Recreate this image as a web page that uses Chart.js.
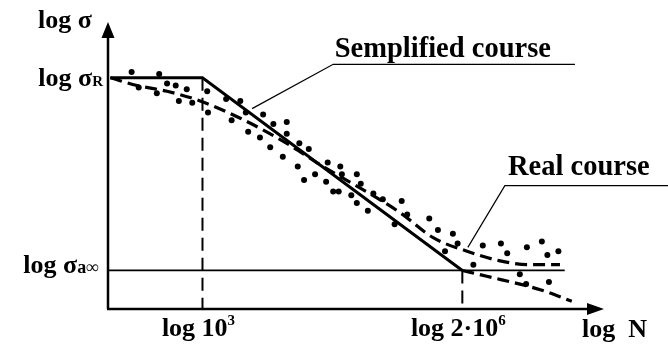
<!DOCTYPE html>
<html lang="en">
<head>
<meta charset="UTF-8" />
<title>Wöhler curve - simplified and real course</title>
<script src="https://cdn.jsdelivr.net/npm/chart.js"></script>
<style>
  html, body { margin: 0; padding: 0; background: #fff; }
  #wrap { width: 668px; height: 345px; }
</style>
</head>
<body>
<div id="wrap"><canvas id="snChart" width="668" height="345"></canvas></div>
<script>
  // x = log N, y = log sigma scaled so that log sigma_R = 1 and log sigma_a-inf = 0
  const xTicks = [3, 6.3];
  const xTickLabels = [['log 10', '3'], ['log 2·10', '6']];
  const yTicks = [1, 0];
  const yTickLabels = [['log σ', 'R'], ['log σ', 'a∞']];

  // simplified course (solid)
  const simpleX = [1.83, 3, 6.3];
  const simpleY = [1, 1, 0];

  // real course (dashed, upper branch)
  const realX = [1.83, 2.17, 2.55, 2.97, 3.48, 4.07, 4.45, 5.51, 5.93, 6.36, 6.78, 7.16, 7.54];
  const realY = [1.00, 0.96, 0.93, 0.88, 0.79, 0.66, 0.56, 0.30, 0.17, 0.10, 0.05, 0.03, 0.03];

  // real course (dashed, lower branch after the knee)
  const lowX = [6.3, 6.61, 7.29, 7.69];
  const lowY = [0, -0.03, -0.10, -0.16];

  // test results
  const dotX = [2.10, 2.45, 2.55, 2.66, 2.19, 2.42, 2.80, 2.70, 2.87, 3.06, 3.07, 3.30, 3.48, 3.55, 3.37,
    3.77, 3.90, 4.07, 3.58, 3.73, 3.86, 4.07, 4.23, 4.35, 4.02, 4.21, 4.43, 4.59, 4.75, 4.29,
    4.57, 4.66, 4.73, 4.89, 4.77, 4.96, 5.01, 5.17, 5.29, 4.96, 5.10, 5.53, 5.60, 5.88, 5.44,
    5.99, 6.18, 6.24, 6.08, 6.56, 6.79, 6.87, 7.12, 7.31, 7.38, 7.52, 6.44, 7.03, 7.11, 7.40];
  const dotY = [1.03, 1.02, 0.97, 0.96, 0.95, 0.92, 0.94, 0.88, 0.87, 0.93, 0.82, 0.89, 0.88, 0.82, 0.78,
    0.81, 0.76, 0.77, 0.72, 0.69, 0.64, 0.71, 0.66, 0.63, 0.59, 0.54, 0.50, 0.56, 0.54, 0.47,
    0.46, 0.41, 0.41, 0.39, 0.50, 0.50, 0.45, 0.40, 0.37, 0.35, 0.31, 0.36, 0.29, 0.27, 0.24,
    0.21, 0.19, 0.14, 0.10, 0.13, 0.14, 0.09, 0.12, 0.15, 0.08, 0.10, 0.03, -0.02, -0.07, -0.06];

  // endurance limit line end, leader lines of the two notes
  const limitEndX = 7.6;
  const simpleLeaderX = [3.63, 4.66, 7.73];
  const simpleLeaderY = [0.84, 1.07, 1.07];
  const realLeaderX = [6.37, 6.84, 8.95];
  const realLeaderY = [0.12, 0.44, 0.44];

  const xMin = 1.8, xMax = 8.15, yMin = -0.2, yMax = 1.3;
  const serif = "'Liberation Serif', 'Times New Roman', serif";

  const pts = (xs, ys) => xs.map((v, i) => ({ x: v, y: ys[i] }));

  function scriptText(ctx, parts, x, y, align) {
    let w = 0;
    parts.forEach(p => { ctx.font = p[1]; w += ctx.measureText(p[0]).width; });
    let cx = align === 'right' ? x - w : align === 'center' ? x - w / 2 : x;
    ctx.textAlign = 'left';
    ctx.textBaseline = 'alphabetic';
    parts.forEach(p => {
      ctx.font = p[1];
      ctx.fillText(p[0], cx, y + p[2]);
      cx += ctx.measureText(p[0]).width;
    });
  }

  const sketchPlugin = {
    id: 'sketch',
    afterDatasetsDraw(chart) {
      const { ctx, chartArea: a, scales } = chart;
      const sx = scales.x, sy = scales.y;
      ctx.save();
      ctx.strokeStyle = '#000';
      ctx.fillStyle = '#000';

      // axes with arrow heads
      ctx.lineWidth = 2.5;
      ctx.beginPath();
      ctx.moveTo(a.left, a.bottom);
      ctx.lineTo(a.left, a.top + 14);
      ctx.moveTo(a.left - 1, a.bottom);
      ctx.lineTo(a.right - 18, a.bottom);
      ctx.stroke();
      ctx.beginPath();
      ctx.moveTo(a.left, a.top + 2);
      ctx.lineTo(a.left - 6.5, a.top + 18);
      ctx.lineTo(a.left + 6.5, a.top + 18);
      ctx.closePath();
      ctx.moveTo(a.right - 4, a.bottom);
      ctx.lineTo(a.right - 21, a.bottom - 6);
      ctx.lineTo(a.right - 21, a.bottom + 6);
      ctx.closePath();
      ctx.fill();

      const big = 'bold 26px ' + serif;
      const small = 'bold 15px ' + serif;

      // axis titles
      scriptText(ctx, [['log σ', big, 0]], 38, 28, 'left');
      scriptText(ctx, [['log  N', big, 0]], 582, 337, 'left');

      // y tick labels
      yTicks.forEach((v, i) => {
        const py = sy.getPixelForValue(v);
        const lab = yTickLabels[i];
        if (i === 0) {
          scriptText(ctx, [[lab[0], big, 0], [lab[1], small, 0]], a.left - 5, py + 8, 'right');
        } else {
          scriptText(ctx, [[lab[0], big, 0], [lab[1], 'bold 18px ' + serif, 0]], a.left - 9, py + 3, 'right');
        }
      });

      // x tick labels
      xTicks.forEach((v, i) => {
        const px = sx.getPixelForValue(v);
        const lab = xTickLabels[i];
        scriptText(ctx, [[lab[0], big, 0], [lab[1], small, -11]], px - 4, a.bottom + 27, 'center');
      });

      // notes
      const note = 'bold 28.5px ' + serif;
      scriptText(ctx, [['Semplified course', note, 0]], sx.getPixelForValue(4.68), sy.getPixelForValue(1.108), 'left');
      scriptText(ctx, [['Real course', note, 0]], sx.getPixelForValue(6.88), sy.getPixelForValue(0.495), 'left');
      ctx.restore();
    }
  };

  const black = '#000';
  new Chart(document.getElementById('snChart'), {
    type: 'scatter',
    data: {
      datasets: [
        {
          label: 'test results',
          data: pts(dotX, dotY),
          pointRadius: 3,
          pointBackgroundColor: black,
          pointBorderWidth: 0,
          showLine: false
        },
        {
          label: 'simplified course',
          data: pts(simpleX, simpleY),
          showLine: true,
          borderColor: black,
          borderWidth: 3,
          pointRadius: 0
        },
        {
          label: 'real course',
          data: pts(realX, realY),
          showLine: true,
          borderColor: black,
          borderWidth: 3.2,
          borderDash: [12, 6],
          cubicInterpolationMode: 'monotone',
          pointRadius: 0
        },
        {
          label: 'real course lower',
          data: pts(lowX, lowY),
          showLine: true,
          borderColor: black,
          borderWidth: 3.2,
          borderDash: [12, 6],
          cubicInterpolationMode: 'monotone',
          pointRadius: 0
        },
        {
          label: 'endurance limit',
          data: [{ x: xMin, y: yTicks[1] }, { x: limitEndX, y: yTicks[1] }],
          showLine: true,
          borderColor: black,
          borderWidth: 1.8,
          pointRadius: 0
        },
        {
          label: 'log 10^3',
          data: [{ x: xTicks[0], y: yTicks[0] }, { x: xTicks[0], y: yMin }],
          showLine: true,
          borderColor: black,
          borderWidth: 2,
          borderDash: [13, 7],
          pointRadius: 0
        },
        {
          label: 'log 2*10^6',
          data: [{ x: xTicks[1], y: yTicks[1] }, { x: xTicks[1], y: yMin }],
          showLine: true,
          borderColor: black,
          borderWidth: 2,
          borderDash: [13, 7],
          pointRadius: 0
        },
        {
          label: 'leader simplified',
          data: pts(simpleLeaderX, simpleLeaderY),
          showLine: true,
          borderColor: black,
          borderWidth: 1.2,
          pointRadius: 0,
          clip: false
        },
        {
          label: 'leader real',
          data: pts(realLeaderX, realLeaderY),
          showLine: true,
          borderColor: black,
          borderWidth: 1.2,
          pointRadius: 0,
          clip: false
        }
      ]
    },
    options: {
      responsive: false,
      animation: false,
      devicePixelRatio: 1,
      layout: { padding: { left: 108, right: 60, top: 20, bottom: 36 } },
      plugins: { legend: { display: false }, tooltip: { enabled: false } },
      scales: {
        x: { type: 'linear', min: xMin, max: xMax, display: false },
        y: { type: 'linear', min: yMin, max: yMax, display: false }
      }
    },
    plugins: [sketchPlugin]
  });
</script>
</body>
</html>
